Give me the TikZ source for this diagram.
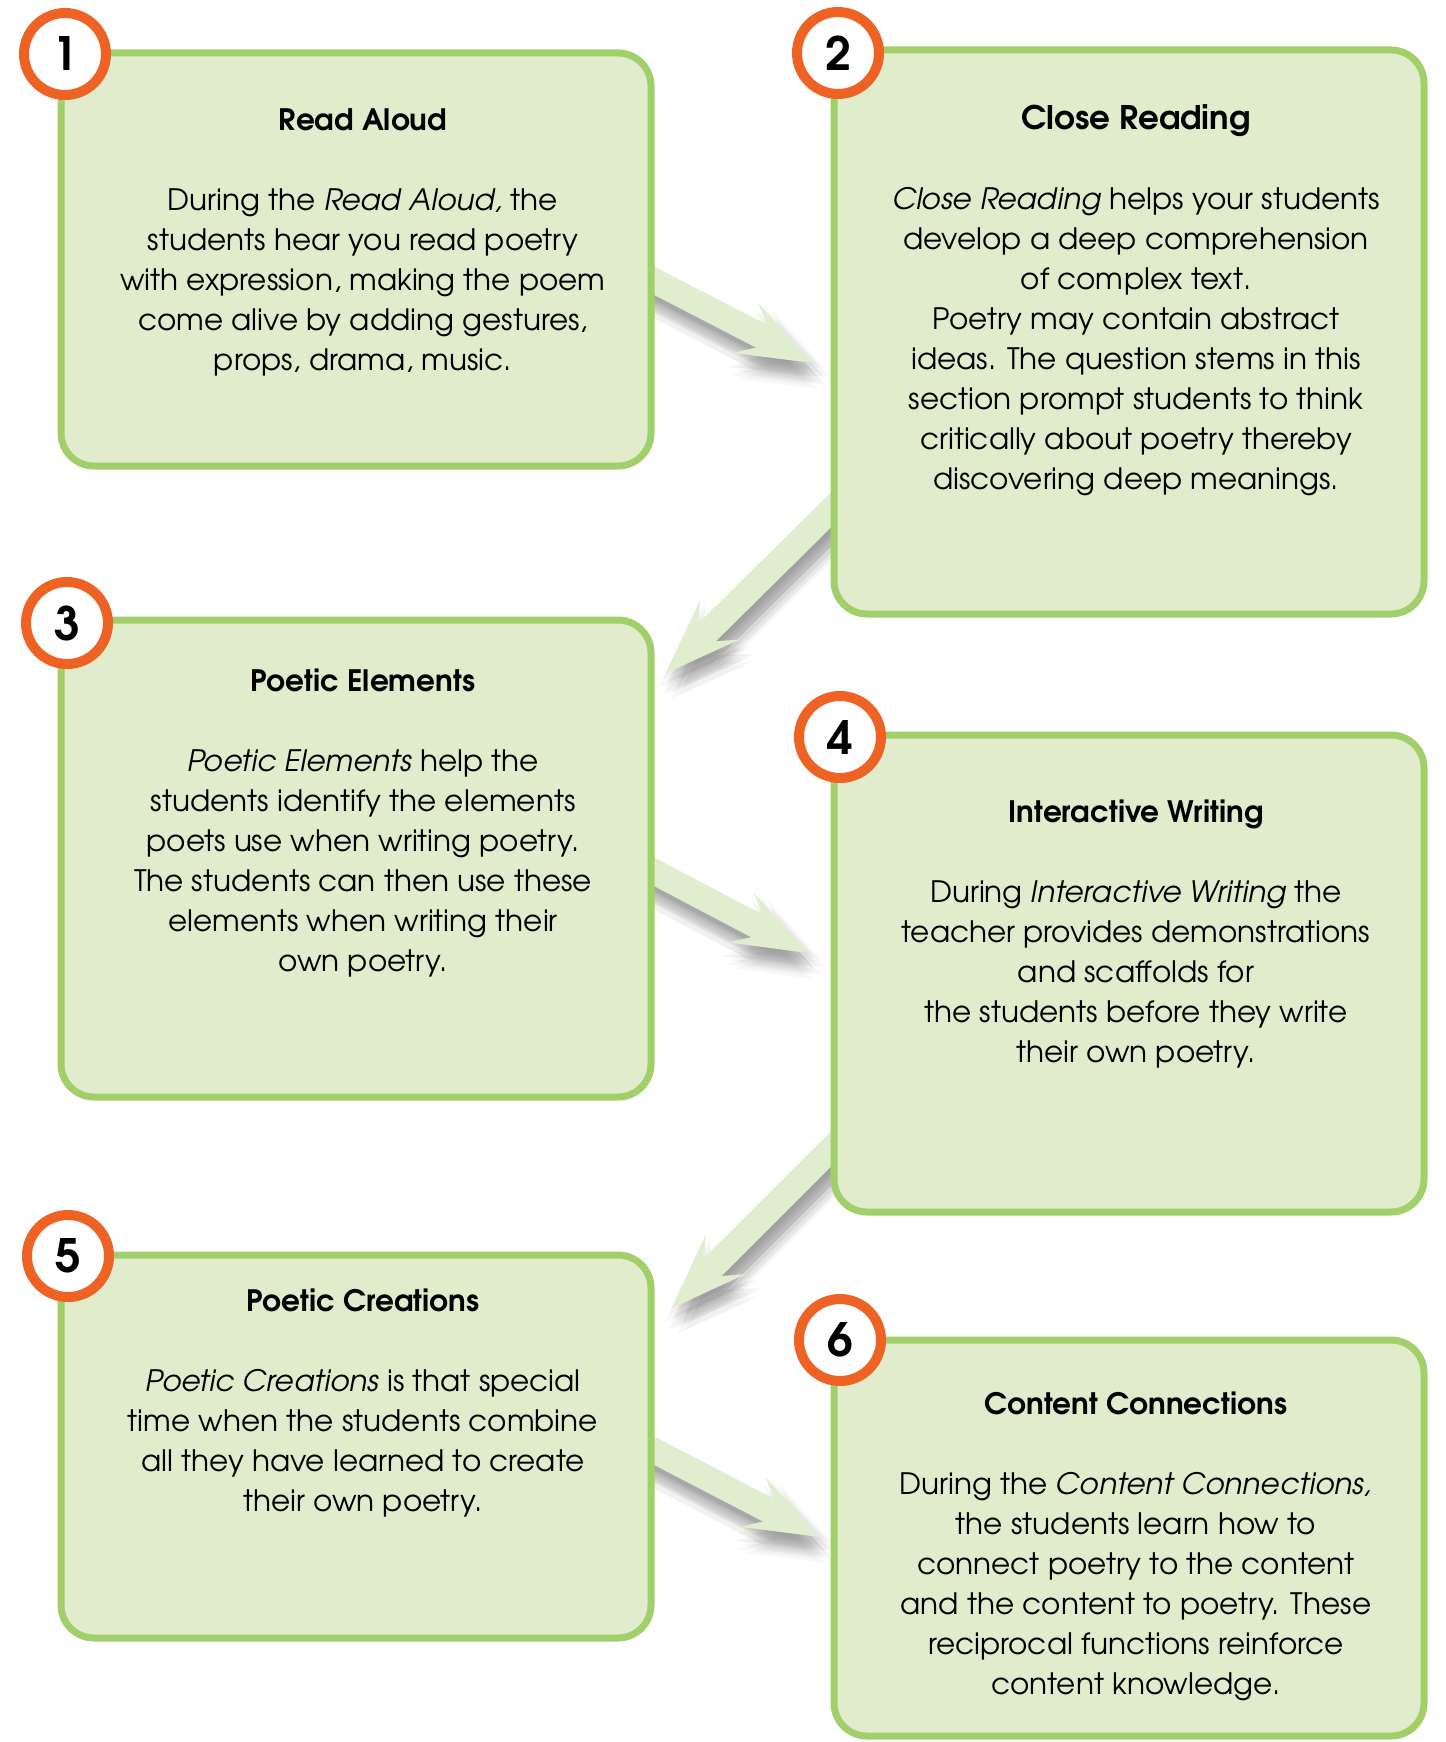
\documentclass[tikz,border=0pt]{standalone}
\usepackage{fontspec}
\setmainfont{TeX Gyre Adventor}
\usetikzlibrary{positioning, calc, arrows.meta}
\definecolor{boxfill}{HTML}{E1ECCD}
\definecolor{boxline}{HTML}{A1CF69}
\definecolor{ringorange}{HTML}{EE6224}
\definecolor{arrowfill}{HTML}{E1EDCF}
\tikzset{
  stepbox/.style={draw=boxline, fill=boxfill, line width=7pt, rounded corners=33pt,
    minimum width=590pt, inner sep=0pt, outer sep=0pt},
  steptext/.style={align=center, inner sep=0pt, anchor=north, xshift=7pt,
    font=\fontsize{29.5}{40}\selectfont},
  numring/.style={circle, draw=ringorange, fill=white, line width=10pt,
    minimum size=82pt, inner sep=0pt, outer sep=0pt,
    font=\fontsize{46}{46}\selectfont\bfseries},
  flowarrow/.style={draw=arrowfill, line width=25pt,
    -{Stealth[length=76pt, width=56pt, inset=33pt, line width=0pt]}}
}

\begin{document}
\begin{tikzpicture}[x=1pt, y=-1pt]
\useasboundingbox (0,0) rectangle (1445,1742);

% arrows between the steps (behind the boxes)
\coordinate (s12) at (637,272);  \coordinate (t12) at (813,363);
\coordinate (s23) at (844,497);  \coordinate (t23) at (666,673);
\coordinate (s34) at (639,864);  \coordinate (t34) at (808,953);
\coordinate (s45) at (846,1134); \coordinate (t45) at (672,1308);
\coordinate (s56) at (639,1443); \coordinate (t56) at (820,1537);
\foreach \a/\b in {s12/t12, s23/t23, s34/t34, s45/t45, s56/t56}{
  \foreach \dx/\dy in {5/14, 11/14, -1/14, 5/20, 5/8, 9/18, 1/18, 9/10, 1/10,
                       17/14, -7/14, 5/26, 5/2, 13/22, -3/22, 13/6, -3/6}{
    \begin{scope}[transparency group, opacity=0.026]
      \draw[flowarrow, draw=black] ($(\a)+(\dx,\dy)$) -- ($(\b)+(\dx,\dy)$);
    \end{scope}
  }
  \draw[flowarrow] (\a) -- (\b);
}

% boxes
\node[stepbox, minimum height=413pt, anchor=north west] (read) at (61,53) {};
\node[stepbox, minimum height=564pt, anchor=north west] (close) at (834,50) {};
\node[stepbox, minimum height=477pt, below=154pt of read] (elements) {};
\node[stepbox, minimum height=477pt, below=121pt of close] (writing) {};
\node[stepbox, minimum height=383pt, below=158pt of elements] (creations) {};
\node[stepbox, minimum height=396pt, below=128pt of writing] (connections) {};

% texts
\node[steptext, below=55pt of read.north] (readtxt) {{\bfseries Read Aloud}\\[40pt]
  During the \textit{Read Aloud,} the\\
  students hear you read poetry\\
  with expression, making the poem\\
  come alive by adding gestures,\\
  props, drama, music.};
\node[steptext, below=54pt of close.north] (closetxt) {{\fontsize{32.5}{40}\selectfont\bfseries Close Reading}\\[40pt]
  \textit{Close Reading} helps your students\\
  develop a deep comprehension\\
  of complex text.\\
  Poetry may contain abstract\\
  ideas. The question stems in this\\
  section prompt students to think\\
  critically about poetry thereby\\
  discovering deep meanings.};
\node[steptext, below=49pt of elements.north] (elementstxt) {{\bfseries Poetic Elements}\\[40pt]
  \textit{Poetic Elements} help the\\
  students identify the elements\\
  poets use when writing poetry.\\
  The students can then use these\\
  elements when writing their\\
  own poetry.};
\node[steptext, below=65pt of writing.north] (writingtxt) {{\bfseries Interactive Writing}\\[40pt]
  During \textit{Interactive Writing} the\\
  teacher provides demonstrations\\
  and scaffolds for\\
  the students before they write\\
  their own poetry.};
\node[steptext, below=34pt of creations.north] (creationstxt) {{\bfseries Poetic Creations}\\[40pt]
  \textit{Poetic Creations} is that special\\
  time when the students combine\\
  all they have learned to create\\
  their own poetry.};
\node[steptext, below=52pt of connections.north] (connectionstxt) {{\bfseries Content Connections}\\[40pt]
  During the \textit{Content Connections,}\\
  the students learn how to\\
  connect poetry to the content\\
  and the content to poetry. These\\
  reciprocal functions reinforce\\
  content knowledge.};

% step numbers
\node[numring] (n1) at ($(read.north west)+(4,1)$) {1};
\node[numring] (n2) at ($(close.north west)+(4,3)$) {2};
\node[numring] (n3) at ($(elements.north west)+(6,3)$) {3};
\node[numring] (n4) at ($(writing.north west)+(6,2)$) {4};
\node[numring] (n5) at ($(creations.north west)+(7,1)$) {5};
\node[numring] (n6) at ($(connections.north west)+(6,0)$) {6};
\end{tikzpicture}
\end{document}
